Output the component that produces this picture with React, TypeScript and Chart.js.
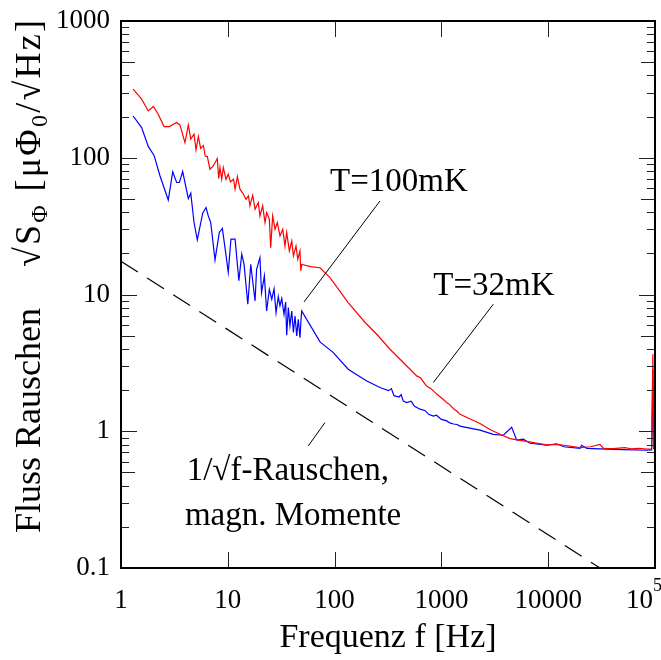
import React, { useEffect, useRef } from "react";
import { Chart, registerables } from "chart.js";

Chart.register(...registerables);

const FONT = '"Liberation Serif", "Times New Roman", serif';

// T=100mK (red) spectrum
const redFreq = [1.30, 1.56, 1.80, 2.01, 2.23, 2.53, 2.83, 3.32, 3.57, 3.97, 4.27, 4.50, 4.83, 5.04, 5.30, 5.57, 5.90, 6.15, 6.43, 6.81, 7.31, 7.97, 8.22, 8.45, 8.77, 9.08, 9.62, 10.1, 10.6, 11.3, 11.7, 12.3, 13.0, 14.0, 14.8, 15.6, 16.1, 17.1, 18.0, 19.3, 20.0, 21.2, 22.3, 23.1, 24.5, 25.2, 26.3, 27.7, 29.1, 30.8, 32.7, 34.3, 35.6, 37.7, 39.7, 41.1, 43.5, 45.2, 47.4, 48.2, 49.2, 60, 73, 90.5, 134, 193, 248, 330, 440, 587, 640, 700, 728, 800, 903, 960, 1050, 1122, 1200, 1300, 1400, 1493, 2296, 2850, 3539, 4390, 5850, 9680, 12500, 19860, 25000, 30500, 33000, 40700, 52000, 60000, 70000, 83600, 93000, 95500, 97000, 99500];
const redVal = [317, 268, 220, 237, 208, 169, 169, 181, 173, 129, 174, 137, 149, 114, 143, 117, 123, 103, 102, 82.4, 87.1, 98.6, 70.5, 84.8, 69.6, 84.8, 69.6, 75.7, 66.5, 69.6, 58.9, 72.8, 58.9, 54.1, 49.7, 52.6, 44.5, 53.2, 42.0, 47.0, 37.5, 44.5, 33.6, 39.7, 35.5, 22.0, 37.5, 30.0, 33.6, 26.8, 30.0, 22.6, 28.4, 20.8, 24.6, 19.1, 22.6, 18.1, 20.8, 14.9, 16.6, 16.0, 15.7, 13.3, 8.73, 6.24, 5.12, 3.98, 3.18, 2.54, 2.45, 2.22, 2.14, 2.05, 1.87, 1.80, 1.70, 1.62, 1.56, 1.46, 1.40, 1.33, 1.14, 1.03, 0.951, 0.884, 0.85, 0.794, 0.80, 0.76, 0.77, 0.80, 0.75, 0.747, 0.76, 0.745, 0.75, 0.739, 0.74, 3.66, 0.76, 0.75];

// T=32mK (blue) spectrum
const blueFreq = [1.30, 1.56, 1.80, 2.04, 2.32, 2.77, 3.05, 3.32, 3.52, 3.78, 4.27, 4.50, 4.83, 5.18, 5.82, 6.25, 6.57, 6.92, 7.59, 8.33, 8.89, 9.41, 10.1, 10.7, 11.7, 12.7, 13.5, 14.2, 15.4, 16.4, 18.0, 18.6, 20.0, 20.7, 22.0, 23.1, 24.5, 25.8, 27.1, 28.3, 29.7, 30.8, 32.0, 33.6, 34.8, 35.6, 36.9, 38.2, 39.7, 41.1, 42.6, 44.2, 45.7, 47.4, 48.4, 49.2, 73, 97.3, 134, 200, 266, 300, 320, 340, 360, 400, 420, 440, 473, 520, 560, 631, 700, 760, 840, 900, 1000, 1122, 1200, 1300, 1400, 1493, 2296, 3062, 3800, 4550, 5070, 5850, 6750, 9680, 12000, 14000, 19860, 20500, 23000, 40700, 50000, 83600, 93000, 95500, 97000, 99500];
const blueVal = [202, 166, 121, 104, 73.6, 49.1, 78.8, 65.9, 65.9, 79.3, 50.3, 55.0, 33.6, 25.1, 39.3, 43.3, 37.5, 33.6, 17.9, 28.4, 30.4, 22.0, 14.5, 25.4, 25.4, 12.6, 19.7, 16.6, 8.49, 16.6, 8.97, 15.3, 18.6, 10.3, 13.7, 7.58, 10.9, 9.23, 11.0, 7.38, 9.66, 8.25, 9.34, 7.17, 8.82, 5.04, 8.03, 5.89, 7.58, 5.27, 6.97, 4.98, 6.59, 4.84, 6.41, 7.58, 4.50, 3.76, 2.84, 2.33, 2.09, 2.02, 1.98, 2.05, 1.82, 1.78, 1.85, 1.66, 1.62, 1.66, 1.52, 1.45, 1.42, 1.33, 1.29, 1.31, 1.22, 1.19, 1.15, 1.13, 1.12, 1.09, 1.02, 0.95, 0.935, 1.07, 0.86, 0.874, 0.817, 0.79, 0.81, 0.77, 0.751, 0.79, 0.75, 0.738, 0.735, 0.726, 0.73, 2.84, 0.75, 0.74];

// 1/sqrt(f) reference line (end points)
const refFreq = [1, 30000];
const refVal = [17.5, 0.101];

// axes
const xMajors = [1, 10, 100, 1000, 10000, 100000];
const xLabels = ["1", "10", "100", "1000", "10000", "10"];
const yMajors = [0.1, 1, 10, 100, 1000];
const yLabels = ["0.1", "1", "10", "100", "1000"];
const yMinorSteps = [2, 3, 4, 5, 6, 7, 8, 9];

// annotations (data coordinates)
const annotations = [
  { text: "T=100mK", f: 90.6, v: 57.2 },
  { text: "T=32mK", f: 840, v: 10.0 },
  { text: "1/\u221Af-Rauschen,", f: 4.12, v: 0.438 },
  { text: "magn. Momente", f: 3.97, v: 0.205 },
];
const leaders = [
  { f1: 266, v1: 48.3, f2: 51.7, v2: 8.82 },
  { f1: 3062, v1: 8.49, f2: 840, v2: 2.27 },
  { f1: 81.3, v1: 1.158, f2: 56.7, v2: 0.781 },
];

const yTickValues: number[] = [];
yMajors.forEach((m, i) => {
  yTickValues.push(m);
  if (i < yMajors.length - 1) yMinorSteps.forEach((s) => yTickValues.push(+(m * s).toPrecision(6)));
});

function mantissa(v: number) {
  const e = Math.floor(Math.log10(v) + 1e-9);
  return Math.round((v / Math.pow(10, e)) * 1000) / 1000;
}

const overlay = {
  id: "overlay",
  afterDatasetsDraw(chart: any) {
    const { ctx, chartArea: a, scales } = chart;
    const xs = scales.x;
    const ys = scales.y;
    ctx.save();
    const line = (x1: number, y1: number, x2: number, y2: number) => {
      ctx.beginPath();
      ctx.moveTo(x1, y1);
      ctx.lineTo(x2, y2);
      ctx.stroke();
    };
    // inward ticks
    ctx.strokeStyle = "#222";
    ctx.lineWidth = 1;
    ys.ticks.forEach((t: any) => {
      const p = Math.round(ys.getPixelForValue(t.value)) + 0.5;
      const m = mantissa(t.value);
      const len = m === 1 ? 16 : m === 5 ? 14 : 8;
      line(a.left, p, a.left + len, p);
      line(a.right - len, p, a.right, p);
    });
    xs.ticks.forEach((t: any) => {
      const p = Math.round(xs.getPixelForValue(t.value)) + 0.5;
      line(p, a.bottom, p, a.bottom - 16);
      line(p, a.top, p, a.top + 16);
    });
    // frame
    ctx.strokeStyle = "#000";
    ctx.lineWidth = 2;
    ctx.strokeRect(a.left, a.top, a.right - a.left, a.bottom - a.top);

    // x tick labels
    ctx.fillStyle = "#000";
    ctx.textBaseline = "alphabetic";
    xMajors.forEach((v, i) => {
      const p = xs.getPixelForValue(v);
      if (i === xMajors.length - 1) {
        ctx.textAlign = "right";
        ctx.font = `27px ${FONT}`;
        ctx.fillText(xLabels[i], p - 2, 608);
        ctx.textAlign = "left";
        ctx.font = `18px ${FONT}`;
        ctx.fillText("5", p - 2, 591);
      } else {
        ctx.textAlign = "center";
        ctx.font = `27px ${FONT}`;
        ctx.fillText(xLabels[i], p, 608);
      }
    });

    // x title
    ctx.font = `34px ${FONT}`;
    ctx.textAlign = "center";
    ctx.fillText("Frequenz f [Hz]", (a.left + a.right) / 2, 647);

    // y title (rotated)
    ctx.save();
    ctx.translate(40, 533);
    ctx.rotate(-Math.PI / 2);
    ctx.textAlign = "left";
    ctx.font = `36px ${FONT}`;
    ctx.fillText("Fluss Rauschen", 0, 0);
    const parts: [string, boolean][] = [
      ["\u221A", false],
      ["S", false],
      ["\u03A6", true],
      [" ", false],
      ["[", false],
      ["\u03BC", false],
      ["\u03A6", false],
      ["0", true],
      ["/", false],
      ["\u221A", false],
      ["H", false],
      ["z", false],
      ["]", false],
    ];
    const size = 36;
    const fontFor = (sub: boolean) => `${sub ? 24 : size}px ${FONT}`;
    const natural = parts.reduce((w, [t, sub]) => {
      ctx.font = fontFor(sub);
      return w + ctx.measureText(t).width;
    }, 0);
    const gap = Math.max(0, (247 - natural) / (parts.length - 1));
    let x = 266;
    parts.forEach(([t, sub]) => {
      ctx.font = fontFor(sub);
      ctx.fillText(t, x, sub ? 7 : 0);
      x += ctx.measureText(t).width + gap;
    });
    ctx.restore();

    // annotations
    ctx.font = `33px ${FONT}`;
    ctx.textAlign = "left";
    annotations.forEach((n) => {
      ctx.fillText(n.text, xs.getPixelForValue(n.f), ys.getPixelForValue(n.v));
    });
    ctx.strokeStyle = "#000";
    ctx.lineWidth = 1;
    leaders.forEach((l) => {
      line(xs.getPixelForValue(l.f1), ys.getPixelForValue(l.v1), xs.getPixelForValue(l.f2), ys.getPixelForValue(l.v2));
    });
    ctx.restore();
  },
};

export default function App() {
  const ref = useRef<HTMLCanvasElement | null>(null);
  useEffect(() => {
    if (!ref.current) return;
    const mk = (fs: number[], vs: number[]) => fs.map((f, i) => ({ x: f, y: vs[i] }));
    const chart = new Chart(ref.current, {
      type: "line",
      data: {
        datasets: [
          { data: mk(refFreq, refVal), borderColor: "#000", borderWidth: 1.2, borderDash: [20, 11], pointRadius: 0, fill: false },
          { data: mk(redFreq, redVal), borderColor: "#ff0000", borderWidth: 1.2, pointRadius: 0, fill: false, tension: 0 },
          { data: mk(blueFreq, blueVal), borderColor: "#0000ff", borderWidth: 1.2, pointRadius: 0, fill: false, tension: 0 },
        ],
      },
      options: {
        animation: false,
        responsive: false,
        maintainAspectRatio: false,
        layout: { padding: { left: 0, top: 21, right: 6, bottom: 0 } },
        plugins: { legend: { display: false }, tooltip: { enabled: false }, title: { display: false } },
        scales: {
          x: {
            type: "logarithmic",
            min: 1,
            max: 100000,
            grid: { display: false, drawTicks: false },
            border: { display: false },
            ticks: { display: false },
            afterBuildTicks: (s: any) => {
              s.ticks = xMajors.map((v) => ({ value: v }));
            },
            afterFit: (s: any) => {
              s.height = 92;
              s.paddingLeft = s.paddingRight = s.paddingTop = s.paddingBottom = 0;
            },
          },
          y: {
            type: "logarithmic",
            min: 0.1,
            max: 1000,
            grid: { display: false, drawTicks: false },
            border: { display: false },
            ticks: {
              autoSkip: false,
              padding: 11,
              color: "#000",
              font: { family: FONT, size: 27 },
              callback: (v: any) => {
                const i = yMajors.findIndex((m) => Math.abs(m - v) < m * 1e-6);
                return i >= 0 ? yLabels[i] : "";
              },
            },
            afterBuildTicks: (s: any) => {
              s.ticks = yTickValues.map((v) => ({ value: v }));
            },
            afterFit: (s: any) => {
              s.width = 121;
              s.paddingLeft = s.paddingRight = s.paddingTop = s.paddingBottom = 0;
            },
          },
        },
      },
      plugins: [overlay],
    } as any);
    return () => chart.destroy();
  }, []);
  return (
    <div style={{ position: "fixed", left: 0, top: 0, width: 661, height: 660, background: "#fff" }}>
      <canvas ref={ref} width={661} height={660} />
    </div>
  );
}
